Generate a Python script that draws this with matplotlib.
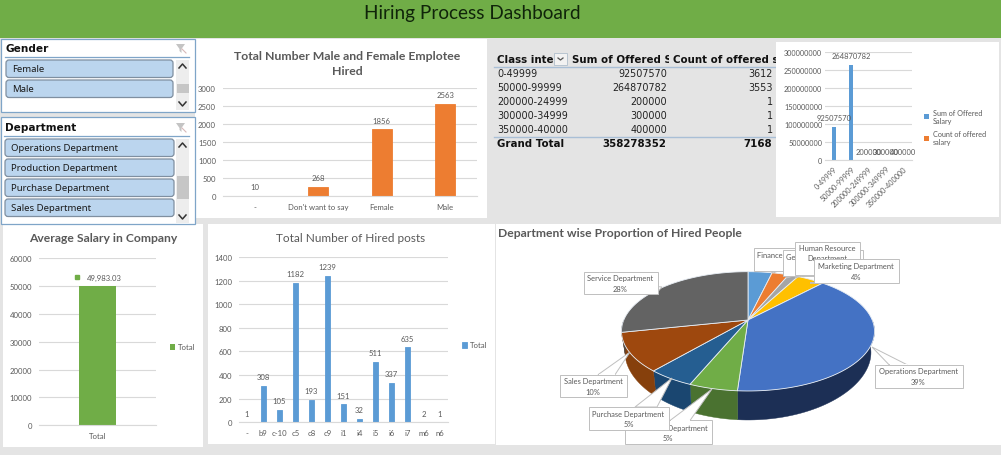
import numpy as np
import matplotlib
matplotlib.use("Agg")
import matplotlib.pyplot as plt
from matplotlib.patches import Rectangle, FancyBboxPatch, Polygon

plt.rcParams['font.family'] = ['Lato', 'DejaVu Sans']

W, H = 1001, 456
BG = '#E4E4E4'
GRID = '#D9D9D9'
TXT = '#595959'
BLUE = '#5B9BD5'
ORANGE = '#ED7D31'
GREEN = '#70AD47'

gender_cats = ['-', "Don't want to say", 'Female', 'Male']
gender_vals = [10, 268, 1856, 2563]
avg_cats = ['Total']
avg_vals = [49983.03]
post_cats = ['-', 'b9', 'c-10', 'c5', 'c8', 'c9', 'i1', 'i4', 'i5', 'i6', 'i7', 'm6', 'n6']
post_vals = [1, 308, 105, 1182, 193, 1239, 151, 32, 511, 337, 635, 2, 1]
class_rows = ['0-49999', '50000-99999', '200000-24999', '300000-34999', '350000-40000']
class_ticks = ['0-49999', '50000-99999', '200000-249999', '300000-349999', '350000-400000']
sum_vals = [92507570, 264870782, 200000, 300000, 400000]
count_vals = [3612, 3553, 1, 1, 1]
sum_total = 358278352
count_total = 7168
gender_slicer = ['Female', 'Male']
dept_slicer = ['Operations Department', 'Production Department', 'Purchase Department', 'Sales Department']
pie_names = ['Finance Department', 'General Management', 'Human Resource\nDepartment', 'Marketing Department',
             'Operations Department', 'Production Department', 'Purchase Department', 'Sales Department',
             'Service Department']
pie_vals = [3.7, 2.6, 1.5, 4.2, 39.1, 5.2, 5.0, 10.4, 28.3]
pie_labels = ['4%', '3%', '1%', '4%', '39%', '5%', '5%', '10%', '28%']
pie_top = ['#5B9BD5', '#ED7D31', '#A5A5A5', '#FFC000', '#4472C4', '#70AD47', '#255E91', '#9E480E', '#636363']
pie_wall = ['#3F6F9C', '#B05C24', '#7A7A7A', '#BD8E00', '#1C2F55', '#4A7230', '#1A4670', '#86400C', '#494949']

fig = plt.figure(figsize=(W / 100, H / 100), dpi=100, facecolor=BG)
bg = fig.add_axes([0, 0, 1, 1])
bg.set_xlim(0, W)
bg.set_ylim(H, 0)
bg.axis('off')


def rect(x0, y0, x1, y1, fc='white', ec='none', lw=0.8, z=1, ax=bg):
    p = Rectangle((x0, y0), x1 - x0, y1 - y0, fc=fc, ec=ec, lw=lw, zorder=z)
    ax.add_patch(p)
    return p


def ax_px(l, t, r, b):
    a = fig.add_axes([l / W, 1 - b / H, (r - l) / W, (b - t) / H])
    a.patch.set_alpha(0)
    for s in ['top', 'left', 'right']:
        a.spines[s].set_visible(False)
    a.spines['bottom'].set_color(GRID)
    a.spines['bottom'].set_linewidth(0.8)
    a.tick_params(length=0, labelsize=5.6, labelcolor=TXT, pad=5)
    a.grid(axis='y', color=GRID, lw=0.8)
    a.set_axisbelow(True)
    return a


# header
rect(0, 0, W, 39, fc=GREEN)
bg.text(472, 13, 'Hiring Process Dashboard', fontsize=13.7, color='#10240A', ha='center', va='center', zorder=3)

# panels
rect(195, 40, 487, 219)
rect(776, 43, 999, 218, z=5)
rect(3, 225, 203, 448)
rect(208, 225, 495, 445)
rect(496, 225, 1001, 446)


def funnel(x, y):
    bg.add_patch(Polygon([(x - 5, y - 4), (x + 4, y - 4), (x + 0.5, y + 1), (x + 0.5, y + 5), (x - 1.5, y + 3), (x - 1.5, y + 1)],
                         fc='#C4C4C4', ec='none', zorder=4))
    bg.plot([x + 1, x + 5], [y + 1, y + 5], color='#D8B8B8', lw=0.8, zorder=4)


def slicer(y0, y1, title, items, xb0, xb1, title_x, tbase, sx, thumb):
    rect(0.5, y0, 195, y1, ec='#7FA5C8', lw=0.9, z=2)
    bg.text(title_x, tbase, title, fontsize=7.6, fontweight='bold', family='DejaVu Sans', color='#111111', va='center', zorder=3)
    bg.plot([title_x - 1, 189], [tbase + 9, tbase + 9], color='#7FA5C8', lw=0.9, zorder=3)
    funnel(sx + 5, tbase)
    top = tbase + 12
    for i, it in enumerate(items):
        yb = top + i * 20
        bg.add_patch(FancyBboxPatch((xb0, yb), xb1 - xb0, 17.5, boxstyle='round,pad=0,rounding_size=3',
                                    fc='#BBD5EE', ec='#7F8FA0', lw=0.9, mutation_scale=1, zorder=3))
        bg.text(xb0 + 6, yb + 9, it, fontsize=6.9, family='Noto Sans', color='#1A1A1A', va='center', zorder=4)
    sb = top + 20 * max(len(items), 2) + (10 if len(items) == 2 else 4)
    rect(sx, top, sx + 13, sb, fc='#EDEDED', z=3)
    rect(sx + 0.5, thumb[0], sx + 12.5, thumb[1], fc='#C6C6C6', z=4)
    for yy, d in [(top + 6, -1), (sb - 6, 1)]:
        bg.plot([sx + 3, sx + 6.5, sx + 10], [yy - d * 2, yy + d * 2, yy - d * 2], color='#333333', lw=1.1, zorder=5)


slicer(40, 113, 'Gender', gender_slicer, 6, 173, 6, 49, 176, (85, 94))
slicer(118, 225, 'Department', dept_slicer, 5, 174, 5, 128, 176, (177, 200))

# gender chart
bg.text(347.5, 64, 'Total Number Male and Female Emplotee\nHired', fontsize=8.8, fontweight='bold', color=TXT,
        ha='center', va='center', linespacing=1.4, zorder=3)
a = ax_px(223, 89.3, 477, 197.3)
x = np.arange(len(gender_cats))
bars = a.bar(x, gender_vals, width=0.315, color=ORANGE, edgecolor=ORANGE, linewidth=0.6)
a.bar_label(bars, fontsize=5.6, color=TXT, padding=4)
a.set_xticks(x, gender_cats)
a.set_xlim(-0.5, 3.5)
a.set_ylim(0, 3000)
a.set_yticks(range(0, 3001, 500))

# table
LINE = '#A9BFD6'
bg.plot([494, 776], [67.5, 67.5], color=LINE, lw=1, zorder=3)
bg.plot([494, 776], [137.5, 137.5], color=LINE, lw=1, zorder=3)


def clip_text(xp, yp, s, x0, x1, **kw):
    t = bg.text(xp, yp, s, va='center', zorder=3, family='DejaVu Sans', color='#111111', **kw)
    t.set_clip_path(Rectangle((x0, 40), x1 - x0, 120, transform=bg.transData))
    t.set_clip_on(True)


clip_text(497, 60, 'Class interval', 490, 553, fontsize=7.4, fontweight='bold')
clip_text(572, 60, 'Sum of Offered Salary', 570, 669, fontsize=7.4, fontweight='bold')
clip_text(673, 60, 'Count of offered salary', 672, 776, fontsize=7.4, fontweight='bold')
rect(554, 54, 567, 66, fc='#F2F2F2', ec='#B8C4D0', lw=0.7, z=3)
bg.plot([558, 560.5, 563], [59, 61, 59], color='#555555', lw=0.9, zorder=4)
for i, lab in enumerate(class_rows):
    yy = 74 + i * 14
    bg.text(497, yy, lab, fontsize=6.9, family='DejaVu Sans', color='#222222', va='center', zorder=3)
    bg.text(667, yy, str(sum_vals[i]), fontsize=6.9, family='DejaVu Sans', color='#222222', va='center', ha='right', zorder=3)
    bg.text(773, yy, str(count_vals[i]), fontsize=6.9, family='DejaVu Sans', color='#222222', va='center', ha='right', zorder=3)
bg.text(497, 144, 'Grand Total', fontsize=7.4, fontweight='bold', family='DejaVu Sans', color='#111111', va='center', zorder=3)
bg.text(666, 144, str(sum_total), fontsize=7.4, fontweight='bold', family='DejaVu Sans', color='#111111', va='center', ha='right', zorder=3)
bg.text(772, 144, str(count_total), fontsize=7.4, fontweight='bold', family='DejaVu Sans', color='#111111', va='center', ha='right', zorder=3)

# sum/count chart
a = ax_px(825, 53.3, 912, 161.3)
a.set_zorder(6)
x = np.arange(len(class_ticks))
b1 = a.bar(x, sum_vals, width=0.23, color=BLUE, label='Sum of Offered\nSalary')
b2 = a.bar(x + 0.23, count_vals, width=0.23, color=ORANGE, label='Count of offered\nsalary')
for xi, v in zip(x, sum_vals):
    a.annotate(str(v), (xi, v), xytext=(0, 6.5), textcoords='offset points', ha='center', va='center', fontsize=5.4, color=TXT)
a.set_xticks(x, class_ticks, rotation=45, ha='right', rotation_mode='anchor', fontsize=5.2)
a.set_xlim(-0.5, 4.5)
a.set_ylim(0, 300000000)
a.set_yticks(range(0, 300000001, 50000000), [str(v) for v in range(0, 300000001, 50000000)], fontsize=5.2)
a.tick_params(axis='y', pad=2)
a.tick_params(axis='x', pad=3)
a.legend(loc='center left', bbox_to_anchor=(924, 128), bbox_transform=bg.transData, frameon=False, fontsize=5.2,
         labelcolor=TXT, handlelength=0.7, handleheight=0.7, handletextpad=0.5, labelspacing=0.9, borderpad=0, borderaxespad=0)

# average chart
bg.text(103, 239, 'Average Salary in Company', fontsize=8.7, fontweight='bold', color=TXT, ha='center', va='center', zorder=3)
a = ax_px(39, 259.3, 156, 426.3)
bars = a.bar(avg_cats, avg_vals, width=0.31, color=GREEN, label='Total')
a.annotate(f'{avg_vals[0]:,.2f}', (0, avg_vals[0]), xytext=(5, 6), textcoords='offset points', ha='center', va='center', fontsize=5.6, color=TXT)
a.plot([-0.175], [avg_vals[0] + 3200], ls='none', marker='s', ms=3.4, color=GREEN)
a.set_xlim(-0.5, 0.5)
a.set_ylim(0, 60000)
a.set_yticks(range(0, 60001, 10000))
a.legend(loc='center left', bbox_to_anchor=(170, 348), bbox_transform=bg.transData, frameon=False, fontsize=5.6,
         labelcolor=TXT, handlelength=0.7, handleheight=0.7, handletextpad=0.3, borderpad=0, borderaxespad=0)

# posts chart
bg.text(351, 239, 'Total Number of Hired posts', fontsize=8.5, color=TXT, ha='center', va='center', zorder=3)
a = ax_px(239, 258, 448, 423.3)
x = np.arange(len(post_cats))
bars = a.bar(x, post_vals, width=0.3, color=BLUE, edgecolor=BLUE, linewidth=0.6, label='Total')
a.bar_label(bars, fontsize=5.6, color=TXT, padding=4)
a.set_xticks(x, post_cats)
a.set_xlim(-0.5, 12.5)
a.set_ylim(0, 1400)
a.set_yticks(range(0, 1401, 200))
a.legend(loc='center left', bbox_to_anchor=(462, 346), bbox_transform=bg.transData, frameon=False, fontsize=5.6,
         labelcolor=TXT, handlelength=0.7, handleheight=0.7, handletextpad=0.3, borderpad=0, borderaxespad=0)

# pie: slices projected from a tilted disc
bg.text(498, 234, 'Department wise Proportion of Hired People', fontsize=8.75, fontweight='bold', color=TXT, va='center', zorder=3)
AX, AY, K, PA, PB = 748.0, 321.0, 0.19, 124.2, 57.5


def rim(th):
    s, c = np.sin(th), -np.cos(th)
    return AX + PA * s / (1 - K * c), AY + PB * c / (1 - K * c)


def lower(th):
    xr, yr = rim(th)
    c = -np.cos(th)
    return AX + 0.972 * (xr - AX), yr + 21 + 8 * c ** 2


fr = np.array(pie_vals) / np.sum(pie_vals) * 2 * np.pi
edges = np.concatenate([[0], np.cumsum(fr)])
for i in range(len(fr)):
    t0, t1 = max(edges[i], np.pi / 2), min(edges[i + 1], 3 * np.pi / 2)
    if t1 > t0:
        th = np.linspace(t0, t1, 60)
        xu, yu = rim(th)
        xl, yl = lower(th)
        bg.add_patch(Polygon(np.r_[np.c_[xu, yu], np.c_[xl, yl][::-1]], fc=pie_wall[i], ec=pie_wall[i], lw=0.3, zorder=3))
for i in range(len(fr)):
    th = np.linspace(edges[i], edges[i + 1], 80)
    xu, yu = rim(th)
    pts = np.r_[[[AX, AY]], np.c_[xu, yu]]
    bg.add_patch(Polygon(pts, fc=pie_top[i], ec='#E8EEF5', lw=0.6, zorder=4, joinstyle='round'))

# callouts: (box x0, y0, x1, y1, pointer base a, base b, tip), drawn back to front
call = {
    0: ((753.5, 248.7, 845, 272), (770, 272), (778, 272), (773, 274)),
    1: ((782.5, 250.5, 863, 276.5), (790, 276.5), (796, 276.5), (786, 279)),
    2: ((794.5, 242.5, 860, 276), (800, 276), (806, 276), (795, 279)),
    3: ((813.5, 260.3, 898.5, 283.7), (820, 283.7), (828, 283.7), (810, 284)),
    4: ((874.5, 365.7, 962.5, 388.5), (889, 365.7), (907, 365.7), (872, 348)),
    5: ((624.5, 421.5, 711.5, 445.3), (670, 421.5), (690, 421.5), (712, 390)),
    6: ((588.5, 408, 668.5, 431.3), (635, 408), (657, 408), (672, 379)),
    7: ((559.5, 375.7, 626.5, 398.3), (598, 375.7), (615, 375.7), (630, 353)),
    8: ((583.5, 272.7, 657.5, 295.3), (650, 287), (657.5, 293), (662, 288)),
}
for i in [0, 1, 2, 3, 5, 6, 7, 8, 4]:
    (x0, y0, x1, y1), pa, pb, tip = call[i]
    bg.add_patch(Polygon([pa, tip, pb], fc='white', ec='#BFBFBF', lw=0.7, zorder=5 + i * 0.1))
    rect(x0, y0, x1, y1, ec='#BFBFBF', lw=0.7, z=5 + i * 0.1)
    rect(pa[0] + 0.5 if i not in (8,) else x1 - 1, y0 - 0.4 if i not in (0, 1, 2, 3) else y1 - 0.4,
         pb[0] - 0.5 if i not in (8,) else x1 + 0.4, y0 + 0.4 if i not in (0, 1, 2, 3) else y1 + 0.4,
         fc='white', z=5 + i * 0.1)
    s = pie_names[i] + '\n' + pie_labels[i]
    if i in (0, 1):
        t = bg.text(x0 + 3.5, y0 + 7, s.split('\n')[0], fontsize=5.4, color=TXT, ha='left', va='center', zorder=5 + i * 0.1)
    elif i == 2:
        t = bg.text((x0 + x1) / 2, y0 + 2.5, pie_names[i], fontsize=5.4, color=TXT, ha='center', va='top', linespacing=1.55, zorder=5 + i * 0.1)
    else:
        t = bg.text((x0 + x1) / 2, (y0 + y1) / 2, s, fontsize=5.4, color=TXT, ha='center', va='center', linespacing=1.55, zorder=5 + i * 0.1)

fig.savefig('out.png', dpi=100, facecolor=BG)
